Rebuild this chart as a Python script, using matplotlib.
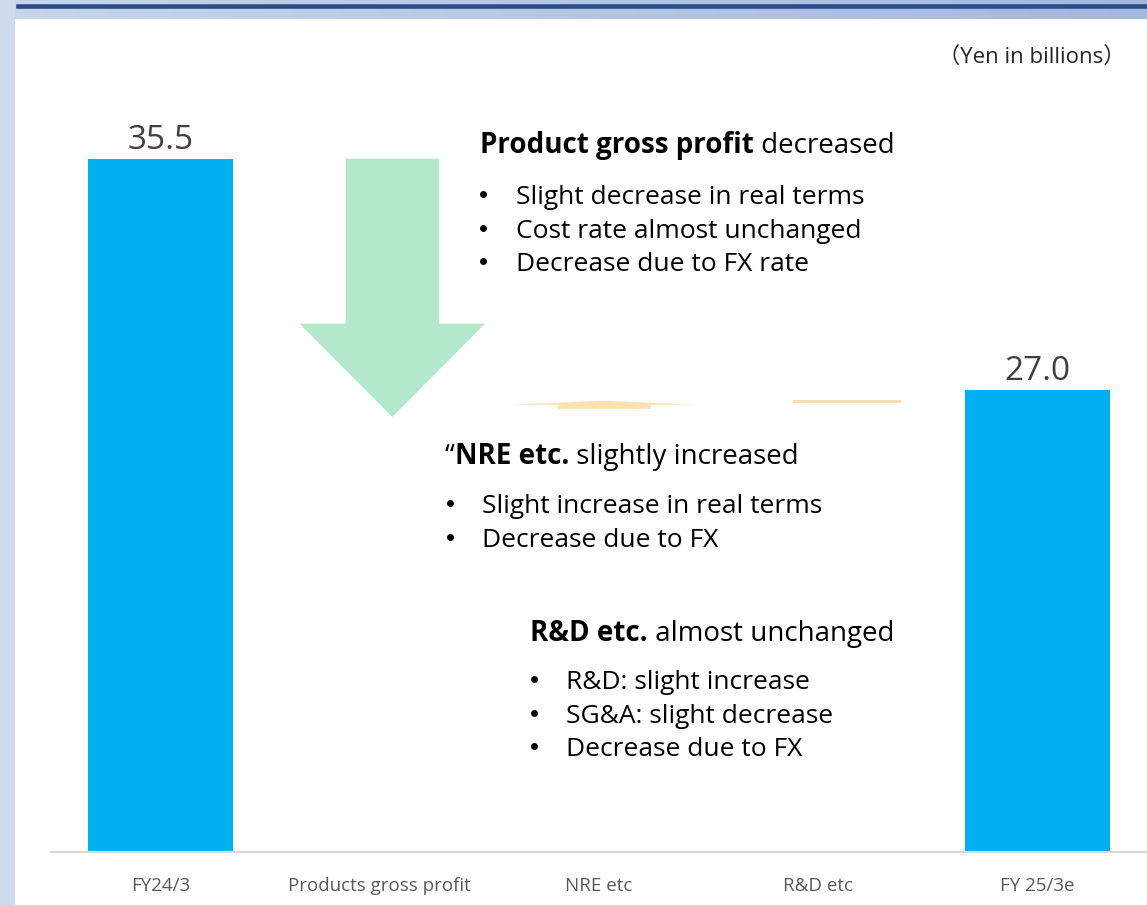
import numpy as np
import matplotlib
matplotlib.use("Agg")
import matplotlib.pyplot as plt
from matplotlib.patches import Rectangle, FancyArrow
from matplotlib.lines import Line2D
from matplotlib.colors import LinearSegmentedColormap

plt.rcParams['font.family'] = ['Open Sans', 'Noto Sans CJK JP', 'DejaVu Sans']

# data
categories = ['FY24/3', 'Products gross profit', 'NRE etc', 'R&D etc', 'FY 25/3e']
total_pos = [0, 4]
totals = [35.5, 27.0]
value_labels = ['35.5', '27.0']
step_pos = [1, 2, 3]
step_from = [35.5, 26.3, 26.6]
step_to = [26.0, 26.6, 26.6]
step_colors = ['#b3e8cb', '#ffe0b3', '#ffdca8']

W, H = 1147, 905


def fx(px):
    return px / W


def fy(py):
    return 1 - py / H


fig = plt.figure(figsize=(W / 100, H / 100), dpi=100)
fig.patch.set_facecolor('#cfdbee')

# white slide panel + top band
fig.add_artist(Rectangle((fx(15), 0), 1 - fx(15), fy(19), transform=fig.transFigure,
                         facecolor='white', edgecolor='none', zorder=0))
band = fig.add_axes([fx(15), fy(19), 1 - fx(15), 19 / H])
band.imshow(np.linspace(0, 1, 256).reshape(1, -1), aspect='auto',
            cmap=LinearSegmentedColormap.from_list('band', ['#c8d5eb', '#a3b8dd']))
band.axis('off')
fig.add_artist(Line2D([fx(18), 1], [fy(6.3), fy(6.3)], color='#2b4d89', lw=3.3,
                      transform=fig.transFigure))

ax = fig.add_axes([fx(51), fy(852), 1 - fx(51), (852 - 20) / H])
ax.patch.set_alpha(0)
ax.set_xlim(-0.5, 4.5)
ax.set_ylim(10, 40.6)

ax.bar(total_pos, totals, width=0.665, color='#00b0f0', zorder=2)
for x, v, lab in zip(total_pos, totals, value_labels):
    ax.annotate(lab, (x, v), xytext=(0, 1), textcoords='offset points',
                ha='center', va='bottom', fontsize=24, fontweight=500,
                color='#404040')

# waterfall steps
offsets = [0.057, 0.024, 0.13]
for x, a, b, c, off in zip(step_pos, step_from, step_to, step_colors, offsets):
    d = b - a
    if abs(d) < 0.05:
        ax.hlines(a, x + off - 0.25, x + off + 0.25, color=c, lw=2)
        continue
    hl = min(3.43, abs(d) * 0.5)
    ax.add_patch(FancyArrow(x + off, a, 0, d, width=0.425, head_width=0.845,
                            head_length=hl, length_includes_head=True,
                            color=c, lw=0, zorder=2))

ax.set_xticks(range(len(categories)), categories)
ax.set_yticks([])
ax.tick_params(axis='x', length=0, pad=18, labelsize=13.5, labelcolor='#595959')
for s in ['left', 'right', 'top']:
    ax.spines[s].set_visible(False)
ax.spines['bottom'].set_color('#d9d9d9')
ax.spines['bottom'].set_linewidth(1.5)

fig.text(fx(1126), fy(57), '（Yen in billions）', fontsize=16, ha='right', va='center',
         color='#262626')


def rich_line(x, y, parts, size=20):
    prev = fig.text(fx(x), fy(y), parts[0][0], fontsize=size, fontweight=parts[0][1],
                    va='baseline', ha='left', color='black')
    for s, w in parts[1:]:
        prev = ax.annotate(s, xy=(1, 0), xycoords=prev, va='bottom', ha='left',
                           fontsize=size, fontweight=w, color='black',
                           annotation_clip=False)


def bullets(xb, xt, y0, items, size=19, step=33.7):
    for i, s in enumerate(items):
        y = y0 + i * step
        fig.add_artist(Line2D([fx(xb)], [fy(y - 10)], marker='o', ms=5, color='black',
                              mew=0, transform=fig.transFigure))
        fig.text(fx(xt), fy(y), s, fontsize=size, va='baseline', ha='left')


rich_line(480, 153, [('Product gross profit', 'bold'), (' decreased', 'normal')])
bullets(483, 516, 204, ['Slight decrease in real terms', 'Cost rate almost unchanged',
                        'Decrease due to FX rate'])

rich_line(445, 464, [('“', 'normal'), ('NRE etc.', 'bold'), (' slightly increased', 'normal')])
bullets(450, 482, 513, ['Slight increase in real terms', 'Decrease due to FX'])

rich_line(530, 641, [('R&D etc.', 'bold'), (' almost unchanged', 'normal')])
bullets(534, 566, 689, ['R&D: slight increase', 'SG&A: slight decrease', 'Decrease due to FX'])

fig.savefig('out.png', dpi=100, facecolor=fig.get_facecolor())
